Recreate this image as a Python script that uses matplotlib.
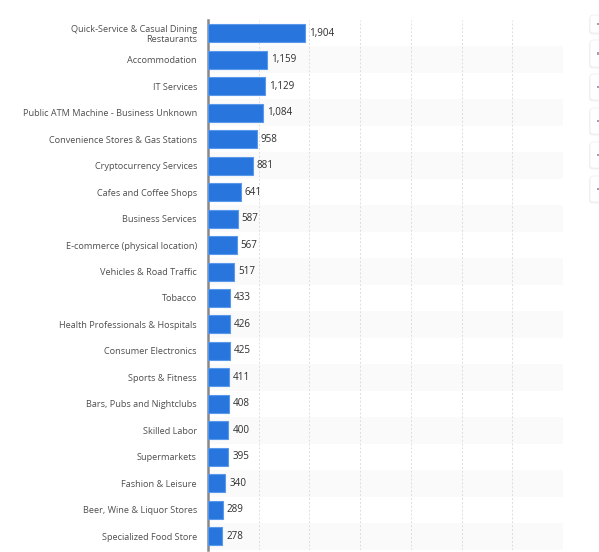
import matplotlib.pyplot as plt
from matplotlib.patches import FancyBboxPatch, Rectangle

# data, top to bottom as in the chart
categories = [
    "Quick-Service & Casual Dining\nRestaurants",
    "Accommodation",
    "IT Services",
    "Public ATM Machine - Business Unknown",
    "Convenience Stores & Gas Stations",
    "Cryptocurrency Services",
    "Cafes and Coffee Shops",
    "Business Services",
    "E-commerce (physical location)",
    "Vehicles & Road Traffic",
    "Tobacco",
    "Health Professionals & Hospitals",
    "Consumer Electronics",
    "Sports & Fitness",
    "Bars, Pubs and Nightclubs",
    "Skilled Labor",
    "Supermarkets",
    "Fashion & Leisure",
    "Beer, Wine & Liquor Stores",
    "Specialized Food Store",
]
values = [1904, 1159, 1129, 1084, 958, 881, 641, 587, 567, 517,
          433, 426, 425, 411, 408, 400, 395, 340, 289, 278]

plt.rcParams['font.family'] = ['Open Sans', 'DejaVu Sans']

W, H = 599, 552
fig = plt.figure(figsize=(W / 100, H / 100), dpi=100)
ax = fig.add_axes([208 / W, 2.5 / H, 355 / W, (H - 20 - 2.5) / H])

n = len(categories)
pos = list(range(n))

# alternating row stripes
for i in pos:
    if i % 2 == 1:
        ax.axhspan(i - 0.5, i + 0.5, color='#fafafa', zorder=0, lw=0)

ax.barh(pos, values, height=0.68, color='#2876dd', edgecolor='#5a98ea',
        linewidth=0.8, zorder=3)

for i, v in enumerate(values):
    ax.text(v + 80, i, f"{v:,}", va='center', ha='left', fontsize=7.1,
            color='#2e2e2e', zorder=4)

ax.set_xlim(0, 7000)
ax.set_ylim(n - 0.5, -0.5)
ax.set_xticks(range(1000, 8000, 1000))
ax.xaxis.grid(True, color='#dddddd', linestyle=(0, (2, 2)), linewidth=0.7, zorder=1)
ax.set_axisbelow(True)
ax.tick_params(axis='x', length=0, labelbottom=False)

ax.set_yticks(pos)
ax.set_yticklabels(categories, fontsize=6.6, color='#4f4f4f', linespacing=1.1)
ax.tick_params(axis='y', length=0, pad=8)

for s in ['top', 'right', 'bottom']:
    ax.spines[s].set_visible(False)
ax.spines['left'].set_color('#888888')
ax.spines['left'].set_linewidth(1.8)

# side toolbar buttons, cut off at the right edge
for y0, y1 in [(15, 33), (40, 67), (74, 100), (108, 134), (142, 168), (176, 202)]:
    fig.patches.append(FancyBboxPatch(
        ((590 - 1) / W, 1 - (y1 + 1.5) / H), 20 / W, (y1 - y0) / H,
        boxstyle="round,pad=0,rounding_size=0.006", transform=fig.transFigure,
        facecolor='#f2f2f2', edgecolor='none', zorder=1))
    fig.patches.append(FancyBboxPatch(
        (590 / W, 1 - y1 / H), 20 / W, (y1 - y0) / H,
        boxstyle="round,pad=0,rounding_size=0.006", transform=fig.transFigure,
        facecolor='white', edgecolor='#efefef', linewidth=0.6, zorder=2))
    fig.patches.append(Rectangle(
        (597 / W, 1 - (y0 + y1) / 2 / H - 1 / H), 2 / W, 2 / H,
        transform=fig.transFigure, facecolor='#9aa4b0', edgecolor='none', zorder=3))

fig.savefig('out.png', dpi=100)
